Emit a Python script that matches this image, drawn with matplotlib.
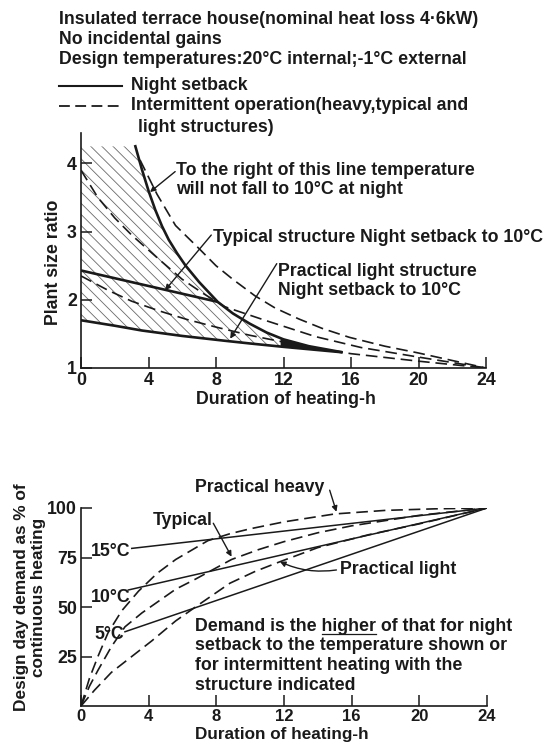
import numpy as np
import matplotlib
matplotlib.use("Agg")
import matplotlib.pyplot as plt
from matplotlib.lines import Line2D

plt.rcParams['font.family'] = ['Liberation Sans', 'DejaVu Sans']
plt.rcParams['font.weight'] = 'bold'
plt.rcParams['hatch.linewidth'] = 0.6

# ---------------- upper chart: plant size ratio vs duration ----------------
limit_h = [3.2, 3.6, 4.0, 4.4, 4.8, 5.2, 5.7, 6.2, 7.0, 8.1, 9.0, 10.0, 11.0, 12.0, 13.5, 15.5]
limit_r = [4.27, 3.92, 3.60, 3.32, 3.08, 2.88, 2.68, 2.50, 2.26, 1.97, 1.80, 1.65, 1.52, 1.42, 1.32, 1.23]

typ_setback_h = [0.0, 8.1]
typ_setback_r = [2.43, 1.97]

light_setback_h = [0.0, 2.0, 3.6, 6.0, 8.5, 10.0, 12.0, 15.5]
light_setback_r = [1.70, 1.62, 1.55, 1.47, 1.40, 1.36, 1.31, 1.23]

heavy_int_h = [3.5, 4.5, 5.6, 7.0, 8.0, 9.0, 10.3, 11.5, 12.9, 14.3, 15.9, 18.0, 20.0, 22.0, 24.0]
heavy_int_r = [4.05, 3.55, 3.09, 2.75, 2.50, 2.30, 2.06, 1.88, 1.72, 1.58, 1.45, 1.32, 1.22, 1.11, 1.00]

typ_int_h = [0.0, 1.0, 2.0, 3.0, 4.5, 6.0, 7.2, 8.5, 10.9, 13.9, 16.6, 20.0, 24.0]
typ_int_r = [3.90, 3.50, 3.20, 2.95, 2.62, 2.30, 2.10, 1.90, 1.70, 1.46, 1.30, 1.16, 1.00]

light_int_h = [0.0, 1.6, 3.0, 4.6, 6.3, 8.0, 10.0, 13.0, 16.0, 20.0, 24.0]
light_int_r = [2.35, 2.14, 1.98, 1.84, 1.71, 1.60, 1.48, 1.33, 1.21, 1.10, 1.00]

hatch_top = 4.25

# ---------------- lower chart: design day demand ----------------
heavy_h = [0, 0.5, 1.0, 1.6, 2.4, 3.4, 4.5, 5.6, 7.5, 8.8, 10, 12, 15, 18, 21, 24]
heavy_d = [0, 14, 25, 37, 48, 58, 67, 74, 83.5, 87, 89.5, 93, 97, 98.8, 99.6, 100]

typ_h = [0, 0.5, 1.0, 1.8, 2.6, 3.6, 4.6, 5.6, 6.75, 8.9, 10.5, 12, 14, 16, 20, 24]
typ_d = [0, 10, 18, 30, 40, 47, 53, 59, 64, 74, 79, 83, 87.5, 91, 96.3, 100]

light_h = [0, 0.8, 1.8, 3.0, 4.2, 5.6, 7.1, 8.8, 10.3, 11.8, 14, 17, 20, 24]
light_d = [0, 8, 17, 25, 33, 43, 52, 62, 68, 73, 80, 86.5, 92, 100]

sb15_h, sb15_d = [3.0, 24.0], [79.6, 100.0]
sb10_h, sb10_d = [2.8, 24.0], [58.6, 100.0]
sb5_h, sb5_d = [2.6, 24.0], [37.5, 100.0]

x_ticks = [0, 4, 8, 12, 16, 20, 24]
ratio_ticks = [1, 2, 3, 4]
demand_ticks = [25, 50, 75, 100]

W, H = 553, 742
FS = 12.8
INK = '#1a1a1a'

fig = plt.figure(figsize=(W / 100, H / 100), dpi=100)


def fx(px):
    return px / W


def fy(py):
    return 1 - py / H


def ftext(px, py, s, **kw):
    kw.setdefault('fontsize', FS)
    kw.setdefault('color', INK)
    kw.setdefault('va', 'center')
    return fig.text(fx(px), fy(py), s, **kw)


def style_axes(ax):
    for side in ('top', 'right'):
        ax.spines[side].set_visible(False)
    for side in ('left', 'bottom'):
        ax.spines[side].set_linewidth(1.2)
        ax.spines[side].set_color(INK)
    ax.tick_params(direction='in', length=8, width=1.1, color=INK,
                   labelsize=FS, labelcolor=INK, pad=3)
    ax.patch.set_alpha(0)


SOLID = dict(color=INK, lw=1.9, solid_capstyle='butt')
DASH = dict(color=INK, lw=1.2, dashes=(7, 3.5))

# ---- header and legend ----
ftext(59, 20, "Insulated terrace house(nominal heat loss 4·6kW)")
ftext(59, 40, "No incidental gains")
ftext(59, 60, "Design temperatures:20°C internal;-1°C external")
fig.add_artist(Line2D([fx(59), fx(122)], [fy(86), fy(86)], color=INK, lw=1.5))
ftext(131, 86, "Night setback")
fig.add_artist(Line2D([fx(59), fx(122)], [fy(106), fy(106)], color=INK, lw=1.3,
                      dashes=(6, 3)))
ftext(131, 106, "Intermittent operation(heavy,typical and")
ftext(138, 127, "light structures)")

# ---- upper chart ----
ax1 = fig.add_axes([fx(81), fy(368), fx(486) - fx(81), fy(133) - fy(368)])
ax1.set_xlim(0, 24)
ax1.set_ylim(1, 4.446)
style_axes(ax1)
ax1.set_xticks(x_ticks)
ax1.set_yticks(ratio_ticks)

# hatched zone where night setback governs
hx = np.linspace(0, limit_h[-1], 400)
upper = np.where(hx < limit_h[0], hatch_top,
                 np.minimum(hatch_top, np.interp(hx, limit_h, limit_r)))
lower = np.interp(hx, light_setback_h, light_setback_r)
ax1.fill_between(hx, lower, upper, facecolor='none', edgecolor='#6a6a6a',
                 hatch='\\\\\\', linewidth=0)
wx = np.linspace(11.8, limit_h[-1], 50)
ax1.fill_between(wx, np.interp(wx, light_setback_h, light_setback_r),
                 np.interp(wx, limit_h, limit_r), color=INK, linewidth=0)

ax1.plot(heavy_int_h, heavy_int_r, **DASH)
ax1.plot(typ_int_h, typ_int_r, **DASH)
ax1.plot(light_int_h, light_int_r, **DASH)
ax1.plot(limit_h, limit_r, **SOLID)
ax1.plot(typ_setback_h, typ_setback_r, **SOLID)
ax1.plot(light_setback_h, light_setback_r, **SOLID)

ARW = dict(arrowstyle='-|>', color=INK, lw=1.0, mutation_scale=8,
           shrinkA=0, shrinkB=0)
ax1.annotate("", xy=(4.09, 3.58), xytext=(5.58, 3.88), arrowprops=ARW,
             annotation_clip=False)
ax1.text(5.65, 3.76, "To the right of this line temperature\nwill not fall to 10°C at night",
         fontsize=FS, color=INK, va='center', ha='left', linespacing=1.15)
ax1.annotate("", xy=(4.98, 2.14), xytext=(7.72, 2.95), arrowprops=ARW,
             annotation_clip=False)
ax1.text(7.82, 2.92, "Typical structure Night setback to 10°C",
         fontsize=FS, color=INK, va='center', ha='left')
ax1.annotate("", xy=(8.84, 1.43), xytext=(11.6, 2.53), arrowprops=ARW,
             annotation_clip=False)
ax1.text(11.67, 2.28, "Practical light structure\nNight setback to 10°C",
         fontsize=FS, color=INK, va='center', ha='left', linespacing=1.15)

ftext(286, 400, "Duration of heating-h", ha='center')
ftext(53, 262, "Plant size ratio", ha='center', rotation=90)

# ---- lower chart ----
ax2 = fig.add_axes([fx(81), fy(706), fx(487) - fx(81), fy(508) - fy(706)])
ax2.set_xlim(0, 24)
ax2.set_ylim(0, 100)
style_axes(ax2)
ax2.tick_params(axis='x', labelsize=12, pad=2)
ax2.set_xticks(x_ticks)
ax2.set_yticks(demand_ticks)

ax2.plot(heavy_h, heavy_d, **DASH)
ax2.plot(typ_h, typ_d, **DASH)
ax2.plot(light_h, light_d, **DASH)
THIN = dict(color=INK, lw=1.1)
ax2.plot(sb15_h, sb15_d, **THIN)
ax2.plot(sb10_h, sb10_d, **THIN)
ax2.plot(sb5_h, sb5_d, **THIN)

ax2.text(0.6, 78, "15°C", fontsize=FS, color=INK, va='center', ha='left')
ax2.text(0.6, 55, "10°C", fontsize=FS, color=INK, va='center', ha='left')
ax2.text(0.8, 36, "5°C", fontsize=FS, color=INK, va='center', ha='left')

ax2.annotate("", xy=(15.1, 98.1), xytext=(14.7, 109.0), arrowprops=ARW,
             annotation_clip=False)
ax2.text(6.74, 110.6, "Practical heavy", fontsize=FS, color=INK,
         va='center', ha='left', clip_on=False)
ax2.annotate("", xy=(8.9, 75.4), xytext=(7.82, 92.3), arrowprops=ARW,
             annotation_clip=False)
ax2.text(4.26, 93.6, "Typical", fontsize=FS, color=INK, va='center', ha='left')
ax2.annotate("", xy=(11.76, 72.9), xytext=(15.1, 68.7),
             arrowprops=dict(ARW, connectionstyle='arc3,rad=-0.15'),
             annotation_clip=False)
ax2.text(15.3, 68.7, "Practical light", fontsize=FS, color=INK,
         va='center', ha='left')

# explanatory note, with "higher" underlined
note_x, base1 = 195, 631
prefix = "Demand is the "
ftext(note_x, base1, prefix + "higher of that for night", va='baseline')
ftext(note_x, 645, "setback to the temperature shown or")
ftext(note_x, 665, "for intermittent heating with the")
ftext(note_x, 685, "structure indicated")
renderer = fig.canvas.get_renderer()
tmp = ftext(note_x, base1, prefix, va='baseline')
w_prefix = tmp.get_window_extent(renderer).width
tmp.remove()
tmp = ftext(note_x, base1, "higher", va='baseline')
w_word = tmp.get_window_extent(renderer).width
tmp.remove()
ux0 = note_x + w_prefix
fig.add_artist(Line2D([fx(ux0), fx(ux0 + w_word)], [fy(base1 + 3), fy(base1 + 3)],
                      color=INK, lw=0.9))

ftext(282, 739, "Duration of heating-h", ha='center', va='baseline', fontsize=12.3)
ftext(30, 597, "Design day demand as % of\ncontinuous heating", ha='center',
      rotation=90, linespacing=1.1, fontsize=12.4)

fig.savefig("out.png", dpi=100, facecolor='white')
